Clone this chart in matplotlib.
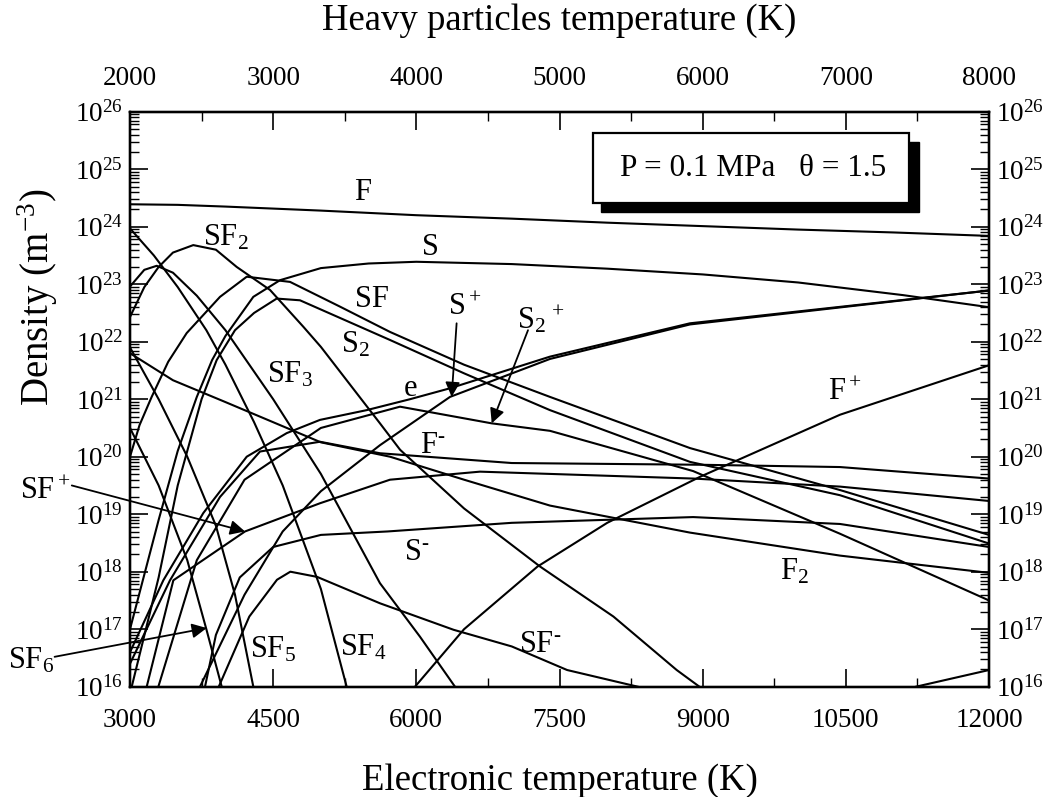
import numpy as np
import matplotlib
matplotlib.use("Agg")
import matplotlib.pyplot as plt
from matplotlib.ticker import MultipleLocator, LogLocator, NullFormatter
from matplotlib.patches import Rectangle

plt.rcParams['font.family'] = ['Liberation Serif', 'DejaVu Serif']
plt.rcParams['mathtext.fontset'] = 'custom'
plt.rcParams['mathtext.rm'] = 'Liberation Serif'
plt.rcParams['mathtext.it'] = 'Liberation Serif:italic'
plt.rcParams['mathtext.bf'] = 'Liberation Serif:bold'

# species densities: (electron temperature K, log10 density m^-3)
F = [(3000, 24.39), (3500, 24.38), (4000, 24.35), (5000, 24.28), (6000, 24.2), (7000, 24.14),
     (8000, 24.07), (9000, 24.01), (10000, 23.95), (11000, 23.9), (12000, 23.84)]
S = [(3000, 17.0), (3300, 18.9), (3500, 20.1), (3700, 21.04), (3860, 21.68), (4000, 22.1),
     (4292, 22.78), (4572, 23.07), (5000, 23.28), (5500, 23.36), (6000, 23.39), (7000, 23.35),
     (8000, 23.27), (9000, 23.17), (10000, 23.03), (11100, 22.81), (12000, 22.6)]
SF = [(3000, 20.0), (3100, 20.55), (3227, 21.04), (3400, 21.65), (3594, 22.15), (3943, 22.78),
      (4223, 23.13), (4677, 23.04), (5200, 22.61), (5724, 22.17), (6500, 21.6), (7400, 21.04),
      (8867, 20.15), (10439, 19.42), (12000, 18.64)]
S2 = [(3018, 16.0), (3300, 17.9), (3500, 19.5), (3750, 21.0), (3908, 21.68), (4100, 22.2),
      (4300, 22.5), (4537, 22.75), (4781, 22.72), (5724, 22.03), (6500, 21.45), (7400, 20.81),
      (8867, 19.91), (10439, 19.33), (12000, 18.49)]
SF2 = [(3000, 22.43), (3150, 22.95), (3300, 23.3), (3450, 23.55), (3663, 23.68), (3900, 23.6),
       (4118, 23.3), (4467, 22.9), (4816, 22.26), (5000, 21.91), (5619, 20.58), (5830, 20.12),
       (6500, 19.1), (7296, 18.09), (8065, 17.22), (8728, 16.29), (8966, 16.0)]
SF3 = [(3000, 22.96), (3150, 23.25), (3280, 23.32), (3450, 23.2), (3700, 22.8), (4000, 22.2),
       (4500, 21.0), (5000, 19.7), (5619, 17.8), (6038, 16.87), (6405, 16.0)]
SF4 = [(3000, 23.97), (3250, 23.5), (3500, 22.95), (3800, 22.2), (4000, 21.6), (4300, 20.6),
       (4600, 19.5), (5000, 17.7), (5270, 16.0)]
SF5 = [(3000, 21.9), (3300, 21.0), (3600, 20.0), (3900, 18.8), (4100, 17.6), (4292, 16.0)]
SF6 = [(3000, 20.5), (3300, 19.5), (3600, 18.2), (3800, 17.0), (3961, 16.0)]
F2 = [(3000, 21.8), (3450, 21.33), (4000, 20.95), (5000, 20.25), (5724, 20.0), (6500, 19.6),
      (7400, 19.15), (8867, 18.68), (10439, 18.28), (12000, 17.98)]
e = [(3000, 16.6), (3349, 17.85), (3768, 19.02), (4223, 20.0), (4642, 20.41), (4990, 20.64),
     (5480, 20.81), (5934, 21.0), (6353, 21.19), (7400, 21.74), (8867, 22.32), (12000, 22.89)]
Sp = [(3733, 16.0), (4200, 17.6), (4600, 18.7), (5000, 19.4), (5619, 20.2), (6353, 21.04),
      (7400, 21.7), (8867, 22.3), (12000, 22.89)]
S2p = [(3297, 16.0), (3700, 18.2), (4200, 19.6), (5000, 20.5), (5829, 20.87), (6790, 20.58),
       (7400, 20.45), (8900, 19.75), (10439, 18.66), (12000, 17.5)]
Fm = [(3000, 16.4), (3419, 17.85), (3943, 19.3), (4362, 20.09), (4990, 20.26), (5619, 20.06),
      (7000, 19.89), (8972, 19.86), (10439, 19.82), (12000, 19.62)]
SFp = [(3175, 16.0), (3454, 17.85), (4205, 18.7), (4990, 19.19), (5724, 19.6), (6667, 19.74),
       (8900, 19.62), (10439, 19.48), (12000, 19.23)]
Sm = [(3786, 16.0), (3900, 16.9), (4150, 17.9), (4500, 18.43), (5000, 18.64), (5700, 18.7),
      (7000, 18.85), (8900, 18.95), (10439, 18.83), (12000, 18.43)]
SFm = [(3930, 16.0), (4250, 17.22), (4540, 17.86), (4680, 18.0), (4960, 17.91), (5620, 17.45),
       (6390, 16.99), (7000, 16.7), (7580, 16.29), (8320, 16.0)]
Fp = [(5986, 16.0), (6500, 17.0), (7270, 18.09), (8000, 18.85), (8972, 19.65), (10439, 20.73),
      (12000, 21.59)]
Spp = [(11235, 16.0), (12000, 16.29)]

curves = [F, S, SF, S2, SF2, SF3, SF4, SF5, SF6, F2, e, Sp, S2p, Fm, SFp, Sm, SFm, Fp, Spp]

W, H = 1056, 797
fig = plt.figure(figsize=(W / 100, H / 100), dpi=100)
ax = fig.add_axes([130 / W, 1 - 686.7 / H, 859 / W, 575 / H])

for c in curves:
    te = [p[0] for p in c]
    n = [10 ** p[1] for p in c]
    ax.plot(te, n, color='black', lw=1.5, solid_joinstyle='round')

ax.set_yscale('log')
ax.set_xlim(3000, 12000)
ax.set_ylim(1e16, 1e26)
ax.xaxis.set_major_locator(MultipleLocator(1500))
ax.xaxis.set_minor_locator(MultipleLocator(750))
ax.yaxis.set_major_locator(LogLocator(base=10, numticks=20))
ax.yaxis.set_minor_locator(LogLocator(base=10, subs=np.arange(2, 10), numticks=20))
ax.yaxis.set_minor_formatter(NullFormatter())

# right axis
ax_r = ax.twinx()
ax_r.set_yscale('log')
ax_r.set_ylim(1e16, 1e26)
ax_r.yaxis.set_major_locator(LogLocator(base=10, numticks=20))
ax_r.yaxis.set_minor_locator(LogLocator(base=10, subs=np.arange(2, 10), numticks=20))
ax_r.yaxis.set_minor_formatter(NullFormatter())

# top axis (heavy particles temperature)
ax_t = ax.twiny()
ax_t.set_xlim(2000, 8000)
ax_t.xaxis.set_major_locator(MultipleLocator(1000))
ax_t.xaxis.set_minor_locator(MultipleLocator(500))

for a in (ax, ax_r, ax_t):
    a.tick_params(which='major', direction='in', length=13, width=1.2, labelsize=19.5, pad=5)
    a.tick_params(which='minor', direction='in', length=6.5, width=1.0)
    for s in a.spines.values():
        s.set_linewidth(1.6)
ax.tick_params(axis='x', which='both', top=False, pad=15)
ax.tick_params(axis='y', which='both', right=False)
ax_r.tick_params(axis='y', which='both', left=False)
ax_t.tick_params(axis='x', which='both', bottom=False, pad=15)

ax.set_xlabel('Electronic temperature (K)', fontsize=26.5, labelpad=22)
ax_t.set_xlabel('Heavy particles temperature (K)', fontsize=26.5, labelpad=26)
fig.text(38 / W, 1 - 297 / H, 'Density (m$^{-3}$)', fontsize=28, rotation=90,
         ha='center', va='center')

# species labels
lab_kw = dict(fontsize=22, ha='center', va='center', zorder=5)
labels = [('F', 5441, 24.59), ('SF$_2$', 4000, 23.8), ('S', 6143, 23.63), ('SF', 5535, 22.73),
          ('S$_2$', 5357, 21.94), ('SF$_3$', 4680, 21.43), ('e', 5934, 21.19),
          ('S$^+$', 6510, 22.59), ('S$_2$$^{\\,+}$', 7300, 22.38), ('F$^{\u2010}$', 6175, 20.2),
          ('F$^+$', 10491, 21.11), ('F$_2$', 9960, 18.0), ('S$^{\u2010}$', 6004, 18.33),
          ('SF$^{\u2010}$', 7296, 16.73), ('SF$_4$', 5440, 16.68), ('SF$_5$', 4500, 16.65)]
for txt, x, y in labels:
    ax.text(x, 10 ** y, txt, **lab_kw)
ax.text(2109, 10 ** 19.4, 'SF$^+$', clip_on=False, **lab_kw)
ax.text(1960, 10 ** 16.45, 'SF$_6$', clip_on=False, **lab_kw)

arr = dict(arrowstyle='-|>', color='black', lw=1.3, mutation_scale=22, shrinkA=0, shrinkB=0)
ax.annotate('', xy=(4205, 10 ** 18.70), xytext=(2390, 10 ** 19.5), arrowprops=arr,
            annotation_clip=False)
ax.annotate('', xy=(3804, 10 ** 17.02), xytext=(2210, 10 ** 16.52), arrowprops=arr,
            annotation_clip=False)
ax.annotate('', xy=(6370, 10 ** 21.04), xytext=(6422, 10 ** 22.32), arrowprops=arr)
ax.annotate('', xy=(6790, 10 ** 20.58), xytext=(7170, 10 ** 22.2), arrowprops=arr)

# condition box with shadow (pixel positions)
fig.patches.append(Rectangle((600.7 / W, 1 - 211.7 / H), 318.6 / W, 70 / H,
                             transform=fig.transFigure, facecolor='black', edgecolor='black',
                             zorder=6))
fig.patches.append(Rectangle((593.3 / W, 1 - 202.7 / H), 316 / W, 69.4 / H,
                             transform=fig.transFigure, facecolor='white', edgecolor='black',
                             lw=1.6, zorder=7))
fig.text(753 / W, 1 - 168 / H, 'P = 0.1 MPa   \u03b8 = 1.5', fontsize=22.5,
         ha='center', va='center', zorder=8)

fig.savefig('out.png', dpi=100)
